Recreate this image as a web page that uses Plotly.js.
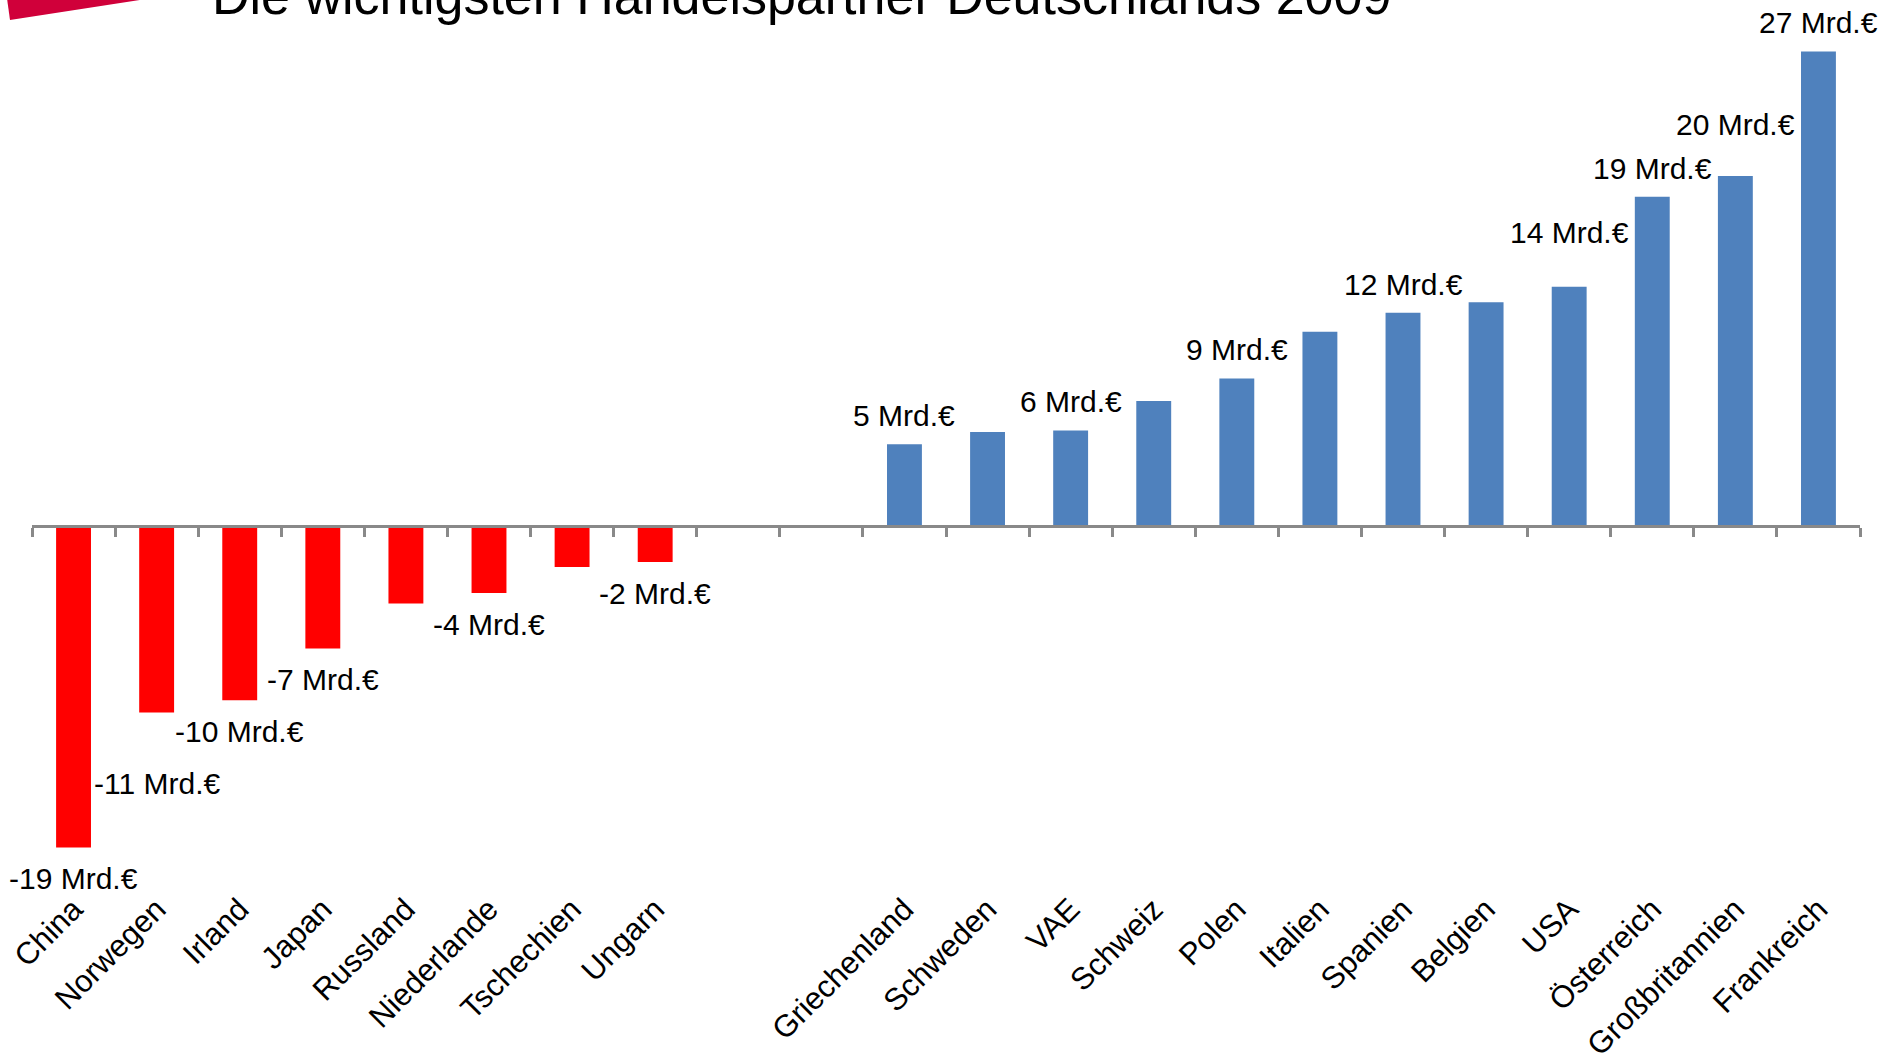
<!DOCTYPE html>
<html>
<head>
<meta charset="utf-8">
<script src="https://cdn.plot.ly/plotly-3.0.1.min.js"></script>
<style>
  html, body { margin: 0; padding: 0; background: #ffffff; }
  #chart { width: 1886px; height: 1064px; }
</style>
</head>
<body>
<div id="chart"></div>
<script>
// ---------- data ----------
const chartTitle = 'Die wichtigsten Handelspartner Deutschlands 2009';
const categories = ['China', 'Norwegen', 'Irland', 'Japan', 'Russland', 'Niederlande', 'Tschechien', 'Ungarn',
  ' ', '  ',
  'Griechenland', 'Schweden', 'VAE', 'Schweiz', 'Polen', 'Italien', 'Spanien', 'Belgien', 'USA',
  'Österreich', 'Großbritannien', 'Frankreich'];
const values = [-18.6, -10.8, -10.1, -7.1, -4.5, -3.9, -2.4, -2.1,
  null, null,
  4.7, 5.4, 5.5, 7.2, 8.5, 11.2, 12.3, 12.9, 13.8, 19.0, 20.2, 27.4];
const valueLabels = ['-19 Mrd.€', '-11 Mrd.€', '-10 Mrd.€', '-7 Mrd.€', '', '-4 Mrd.€', '', '-2 Mrd.€',
  '', '',
  '5 Mrd.€', '', '6 Mrd.€', '', '9 Mrd.€', '', '12 Mrd.€', '', '14 Mrd.€', '19 Mrd.€', '20 Mrd.€', '27 Mrd.€'];

// ---------- styling / layout ----------
const FONT = 'Liberation Sans, Arial, Helvetica, sans-serif';
const W = 1886, H = 1064;
const M = { l: 32, r: 26, t: 40.6, b: 174.8 };
const yRange = [-21, 28];
const zeroFrac = (0 - yRange[0]) / (yRange[1] - yRange[0]);
const extraLabelShift = { 'Norwegen': 40, 'USA': 26, 'Großbritannien': 23 };

const barColors = values.map(v => (v !== null && v < 0) ? '#FF0000' : '#4F81BD');

const trace = {
  type: 'bar',
  x: categories,
  y: values,
  marker: { color: barColors, line: { width: 0 } },
  hoverinfo: 'x+y'
};

const annotations = [];
categories.forEach((c, i) => {
  if (!valueLabels[i] || values[i] === null) return;
  const extra = extraLabelShift[c] || 0;
  const neg = values[i] < 0;
  annotations.push({
    x: c, y: values[i], xref: 'x', yref: 'y',
    text: valueLabels[i],
    showarrow: false,
    xanchor: 'center',
    yanchor: neg ? 'top' : 'bottom',
    yshift: neg ? -(13 + extra) : (10 + extra),
    font: { family: FONT, size: 30, color: '#000000' }
  });
});

const plotW = W - M.l - M.r;
const plotH = H - M.t - M.b;
const px2x = px => (px - M.l) / plotW;
const px2y = py => (H - M.b - py) / plotH;
const deco = [[5.9, -10], [10, 19.5], [202, -10]];
const decoPath = 'M ' + deco.map(p => px2x(p[0]) + ',' + px2y(p[1])).join(' L ') + ' Z';

const layout = {
  width: W, height: H,
  paper_bgcolor: '#ffffff',
  plot_bgcolor: '#ffffff',
  margin: { l: M.l, r: M.r, t: M.t, b: M.b, pad: 0 },
  showlegend: false,
  bargap: 0.58,
  font: { family: FONT, size: 30, color: '#000000' },
  title: {
    text: chartTitle,
    xref: 'container', yref: 'container',
    x: 212 / W, xanchor: 'left',
    y: 1 - 13.5 / H, yanchor: 'bottom',
    font: { family: FONT, size: 52, color: '#000000' }
  },
  xaxis: {
    type: 'category',
    categoryorder: 'array',
    categoryarray: categories,
    range: [-0.5, categories.length - 0.5],
    anchor: 'free',
    position: zeroFrac,
    side: 'bottom',
    showline: true, linecolor: '#898989', linewidth: 3,
    ticks: 'outside', tickson: 'boundaries',
    ticklen: 9, tickwidth: 3, tickcolor: '#898989',
    tickangle: -45,
    tickfont: { family: FONT, size: 31, color: '#000000' },
    ticklabelstandoff: 351,
    showgrid: false, zeroline: false,
    automargin: false,
    fixedrange: true
  },
  yaxis: {
    range: yRange,
    visible: false,
    showgrid: false, zeroline: false,
    automargin: false,
    fixedrange: true
  },
  annotations: annotations,
  shapes: [{
    type: 'path', xref: 'paper', yref: 'paper',
    path: decoPath,
    fillcolor: '#D0003A',
    line: { width: 0 },
    layer: 'above'
  }]
};

Plotly.newPlot('chart', [trace], layout, { displayModeBar: false, staticPlot: true });
</script>
</body>
</html>
